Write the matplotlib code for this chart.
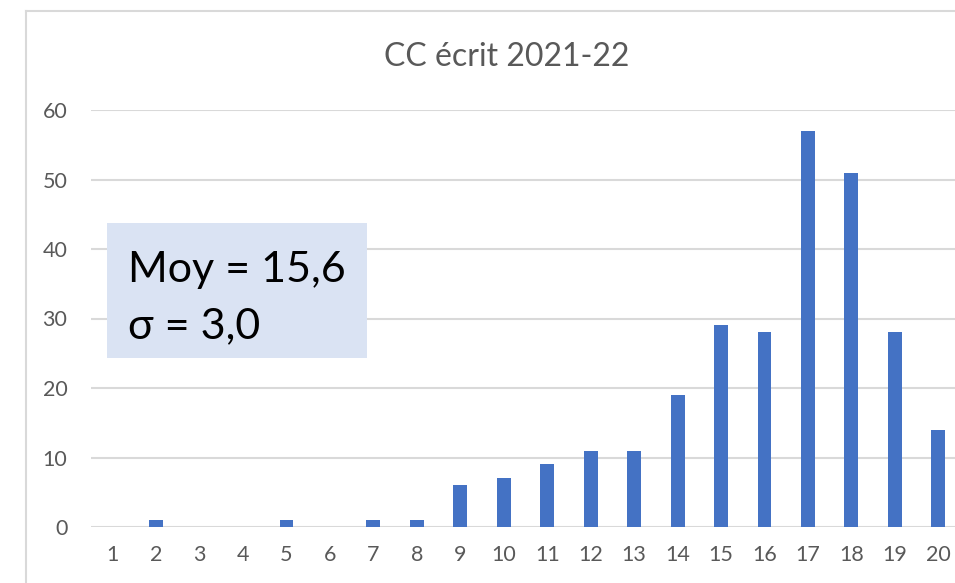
import matplotlib
matplotlib.use("Agg")
import matplotlib.pyplot as plt
from matplotlib.patches import Rectangle
from matplotlib.lines import Line2D

categories = [str(i) for i in range(1, 21)]
counts = [0, 1, 0, 0, 1, 0, 1, 1, 6, 7, 9, 11, 11, 19, 29, 28, 57, 51, 28, 14]
y_ticks = [0, 10, 20, 30, 40, 50, 60]
title = "CC écrit 2021-22"
stats_lines = ["Moy = 15,6", "σ = 3,0"]

FONT = ['Lato', 'DejaVu Sans']
plt.rcParams['font.family'] = FONT

W, H = 955, 583
fig = plt.figure(figsize=(W / 100, H / 100), dpi=100)
fig.patch.set_facecolor('white')

# chart frame (cut off at right and bottom)
fig.add_artist(Line2D([26 / W, 26 / W], [0, 1 - 11 / H], transform=fig.transFigure,
                      color='#D9D9D9', lw=1.5))
fig.add_artist(Line2D([26 / W, 1], [1 - 11 / H, 1 - 11 / H], transform=fig.transFigure,
                      color='#D9D9D9', lw=1.5))

left, right = 91, 960
bottom, top = 527, 110
ax = fig.add_axes([left / W, 1 - bottom / H, (right - left) / W, (bottom - top) / H])
x = list(range(len(categories)))
ax.bar(x, counts, width=0.32, color='#4472C4', zorder=3)
ax.set_xlim(-0.5, len(categories) - 0.5)
ax.set_ylim(0, 60)
ax.set_yticks(y_ticks)
ax.set_xticks(x)
ax.set_xticklabels(categories)
ax.yaxis.grid(True, color='#D9D9D9', lw=1.5, zorder=0)
ax.set_axisbelow(True)
for s in ax.spines.values():
    s.set_visible(False)
ax.tick_params(axis='both', length=0, labelsize=15.5, labelcolor='#595959')
ax.tick_params(axis='x', pad=13)
ax.tick_params(axis='y', pad=17)

fig.text(507 / W, 1 - 57 / H, title, ha='center', va='center', fontsize=23, color='#595959')

# stats box
fig.add_artist(Rectangle((107 / W, 1 - 358 / H), (367 - 107) / W, (358 - 223) / H,
                         transform=fig.transFigure, facecolor='#DAE3F3', edgecolor='none', zorder=5))
fig.text(128 / W, 1 - 282 / H, stats_lines[0], ha='left', va='baseline', fontsize=31,
         color='black', zorder=6)
fig.text(128 / W, 1 - 338 / H, stats_lines[1], ha='left', va='baseline', fontsize=31,
         color='black', zorder=6)

fig.savefig('out.png', dpi=100)
